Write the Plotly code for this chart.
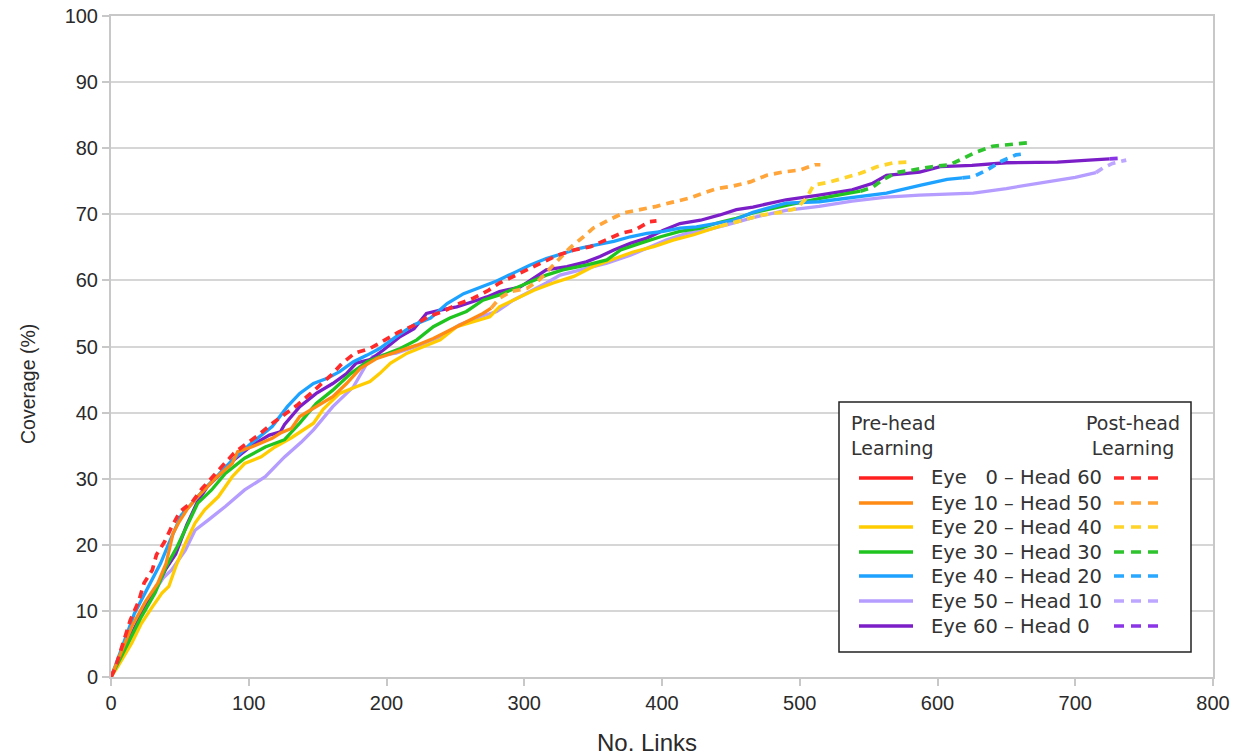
import plotly.graph_objects as go

# ---------------- data ----------------
labels = ["Eye\u00a0\u00a0\u00a00 \u2013 Head 60", "Eye 10 \u2013 Head 50", "Eye 20 \u2013 Head 40",
          "Eye 30 \u2013 Head 30", "Eye 40 \u2013 Head 20", "Eye 50 \u2013 Head 10",
          "Eye 60 \u2013 Head 0"]

# Eye 0 - Head 60
red_pre_x = [0]
red_pre_y = [0]
red_post_x = [0, 3, 14, 20, 24, 30, 33, 39, 44, 50, 59, 66, 73, 80, 89, 97, 107, 116, 125, 135, 145,
              152, 160, 168, 177, 188, 200, 209, 221, 230, 241, 253, 263, 274, 282, 292, 304, 316,
              324, 336, 348, 359, 370, 380, 391, 396]
red_post_y = [0, 1.3, 8.6, 11.4, 14.2, 16.2, 18.5, 20.5, 22.7, 25.0, 26.5, 28.5, 30.1, 31.8, 33.8,
              35.1, 36.6, 38.2, 39.6, 41.1, 42.9, 44.2, 45.7, 47.5, 49.0, 49.7, 51.2, 52.2, 53.3,
              54.5, 55.3, 56.5, 57.3, 58.5, 59.6, 60.6, 61.8, 63.1, 63.8, 64.6, 65.1, 66.1, 67.1,
              67.6, 68.9, 69.0]

# Eye 10 - Head 50
orange_pre_x = [0, 5, 15, 25, 34, 40, 45, 49, 55, 63, 76, 88, 92, 102, 117, 123, 131, 137, 149, 161,
                171, 181, 193, 207, 222, 234, 246, 258, 270, 276]
orange_pre_y = [0, 2.6, 7.6, 11.4, 14.2, 17.2, 21.7, 23.3, 25.3, 27.3, 30.1, 32.3, 34.1, 34.8, 36.1,
                36.9, 37.6, 39.4, 40.9, 42.4, 44.4, 46.7, 48.2, 49.2, 50.2, 51.2, 52.5, 53.8, 55.0, 55.8]
orange_post_x = [276, 282, 290, 302, 311, 319, 333, 343, 350, 361, 372, 384, 396, 407, 419, 430, 440,
                 452, 464, 476, 488, 500, 511, 515]
orange_post_y = [55.8, 57.3, 58.3, 58.8, 60.1, 61.8, 64.9, 66.6, 67.9, 69.1, 70.2, 70.7, 71.2, 71.8,
                 72.4, 73.2, 73.9, 74.3, 74.9, 75.9, 76.4, 76.7, 77.5, 77.5]

# Eye 20 - Head 40
yellow_pre_x = [0, 5, 15, 22, 30, 37, 42, 47, 54, 61, 68, 78, 88, 97, 109, 119, 131, 147, 154, 166,
                178, 188, 195, 203, 215, 227, 239, 251, 263, 275, 282, 292, 307, 321, 336, 350, 365,
                379, 394, 408, 423, 437, 442]
yellow_pre_y = [0, 1.6, 5.1, 8.1, 10.6, 12.7, 13.7, 16.7, 20.2, 23.3, 25.3, 27.3, 30.3, 32.3, 33.3,
                34.8, 36.2, 38.4, 40.5, 42.9, 43.9, 44.7, 45.9, 47.5, 49.0, 50.0, 51.0, 53.0, 53.8,
                54.5, 56.0, 57.0, 58.5, 59.6, 60.6, 62.1, 63.3, 64.3, 65.1, 66.1, 66.9, 67.9, 68.2]
yellow_post_x = [442, 460, 473, 486, 498, 505, 510, 522, 534, 544, 556, 568, 580]
yellow_post_y = [68.2, 69.2, 69.9, 70.3, 70.9, 72.5, 74.4, 74.9, 75.6, 76.2, 77.2, 77.8, 77.9]

# Eye 30 - Head 30
green_pre_x = [0, 10, 22, 32, 40, 48, 56, 63, 73, 83, 97, 112, 126, 137, 149, 161, 174, 186, 198,
               210, 222, 234, 246, 258, 270, 282, 299, 316, 328, 345, 360, 370, 384, 399, 413, 428,
               442, 454, 466, 491, 515, 539, 544]
green_pre_y = [0, 4.1, 9.1, 12.7, 16.7, 19.7, 23.3, 26.3, 28.3, 30.8, 33.1, 34.8, 35.9, 38.4, 41.4,
               43.4, 45.9, 47.7, 48.7, 49.7, 51.0, 53.0, 54.3, 55.3, 57.0, 57.8, 59.3, 60.8, 61.6,
               62.3, 63.1, 64.6, 65.6, 66.6, 67.4, 67.9, 68.8, 69.4, 70.2, 71.4, 72.4, 73.4, 73.5]
green_post_x = [544, 553, 560, 570, 582, 596, 609, 619, 628, 640, 653, 665]
green_post_y = [73.5, 74.1, 75.2, 76.3, 76.7, 77.2, 77.5, 78.5, 79.4, 80.3, 80.5, 80.8]

# Eye 40 - Head 20
blue_pre_x = [0, 3, 17, 27, 36, 42, 47, 51, 59, 68, 78, 88, 102, 117, 128, 137, 147, 157, 166, 176,
              186, 195, 207, 220, 232, 244, 256, 268, 280, 292, 304, 316, 328, 341, 353, 365, 377,
              389, 401, 413, 425, 437, 452, 466, 490, 514, 538, 563, 588, 607, 618]
blue_pre_y = [0, 1.6, 9.6, 13.7, 17.2, 20.2, 22.7, 24.5, 26.3, 28.5, 30.6, 32.8, 35.4, 37.9, 40.9,
              42.9, 44.4, 45.2, 46.2, 47.7, 48.7, 49.7, 51.5, 53.3, 54.3, 56.5, 58.0, 59.0, 59.9,
              61.1, 62.3, 63.3, 64.1, 64.9, 65.4, 65.9, 66.6, 67.1, 67.4, 67.9, 68.1, 68.6, 69.1,
              70.3, 71.7, 71.9, 72.5, 73.2, 74.4, 75.3, 75.5]
blue_post_x = [618, 626, 636, 645, 657, 661]
blue_post_y = [75.5, 75.7, 76.7, 77.9, 79.0, 79.1]

# Eye 50 - Head 10
lav_pre_x = [0, 10, 20, 30, 38, 44, 54, 61, 71, 83, 97, 112, 126, 138, 147, 161, 176, 186, 190, 207,
             224, 239, 253, 268, 280, 292, 316, 326, 341, 360, 377, 389, 403, 418, 432, 447, 466, 490,
             514, 538, 563, 587, 626, 650, 674, 700, 715]
lav_pre_y = [0, 4.0, 8.5, 12.5, 15.0, 16.2, 19.2, 22.2, 23.8, 25.8, 28.3, 30.3, 33.3, 35.5, 37.4,
             40.9, 43.9, 47.5, 48.5, 49.0, 50.2, 51.5, 53.3, 54.5, 55.3, 57.0, 59.6, 60.8, 61.6,
             62.6, 63.8, 64.9, 66.1, 67.1, 67.6, 68.4, 69.5, 70.6, 71.2, 72.0, 72.6, 72.9, 73.2,
             73.9, 74.7, 75.6, 76.3]
lav_post_x = [715, 720, 727, 737]
lav_post_y = [76.3, 77.0, 77.7, 78.2]

# Eye 60 - Head 0
purple_pre_x = [0, 10, 22, 32, 40, 47, 55, 63, 70, 80, 90, 102, 115, 123, 126, 137, 149, 161, 171,
                178, 188, 198, 210, 220, 229, 239, 251, 263, 273, 282, 297, 316, 331, 345, 355, 365,
                377, 389, 401, 413, 428, 442, 454, 466, 490, 514, 538, 553, 563, 578, 587, 602, 625,
                650, 687, 710, 725]
purple_pre_y = [0, 4.4, 9.5, 13.2, 16.4, 18.6, 23.0, 26.6, 28.8, 30.8, 33.0, 35.0, 36.6, 37.1, 38.2,
                40.9, 42.9, 44.4, 45.9, 47.5, 48.0, 49.5, 51.5, 52.7, 55.0, 55.5, 56.0, 56.8, 57.5,
                58.3, 59.0, 61.6, 62.1, 62.8, 63.6, 64.6, 65.6, 66.4, 67.6, 68.6, 69.1, 69.9, 70.7,
                71.1, 72.2, 72.9, 73.7, 74.7, 75.9, 76.2, 76.4, 77.2, 77.4, 77.8, 77.9, 78.2, 78.4]
purple_post_x = [725, 733]
purple_post_y = [78.4, 78.5]

x_ticks = [0, 100, 200, 300, 400, 500, 600, 700, 800]
y_ticks = [0, 10, 20, 30, 40, 50, 60, 70, 80, 90, 100]
x_title = "No. Links"
y_title = "Coverage (%)"

# ---------------- styling ----------------
solid_colors = ["#ff1f1f", "#ff8a14", "#ffcc00", "#1fc41f", "#1ea2ff", "#b59cff", "#7b1ec8"]
dash_colors = ["#ff2b2b", "#ffa53a", "#ffd42a", "#2ec42e", "#2aa8ff", "#bda6ff", "#8a35e6"]

pre = [(red_pre_x, red_pre_y), (orange_pre_x, orange_pre_y), (yellow_pre_x, yellow_pre_y),
       (green_pre_x, green_pre_y), (blue_pre_x, blue_pre_y), (lav_pre_x, lav_pre_y),
       (purple_pre_x, purple_pre_y)]
post = [(red_post_x, red_post_y), (orange_post_x, orange_post_y), (yellow_post_x, yellow_post_y),
        (green_post_x, green_post_y), (blue_post_x, blue_post_y), (lav_post_x, lav_post_y),
        (purple_post_x, purple_post_y)]

fig = go.Figure()
draw_order = [5, 6, 2, 3, 4, 1, 0]
for i in draw_order:
    x, y = pre[i]
    fig.add_trace(go.Scatter(x=x, y=y, mode="lines", name=labels[i] + " pre",
                             line=dict(color=solid_colors[i], width=3.3), showlegend=False))
for i in draw_order:
    x, y = post[i]
    fig.add_trace(go.Scatter(x=x, y=y, mode="lines", name=labels[i] + " post",
                             line=dict(color=dash_colors[i], width=3.7, dash="8px,6px"),
                             showlegend=False))

W, H = 1233, 756
L, R, T, B = 111, 1213, 16, 677   # plot area in page pixels


def px(xp):
    return (xp - L) / (R - L)


def py(yp):
    return (B - yp) / (B - T)


shapes = []
annotations = []
# legend box
shapes.append(dict(type="rect", xref="paper", yref="paper", x0=px(839), x1=px(1191),
                   y0=py(652), y1=py(402), line=dict(color="#222222", width=1.5),
                   fillcolor="white", layer="above"))
leg_font = dict(family="DejaVu Sans", size=19, color="#333333")
annotations.append(dict(xref="paper", yref="paper", x=px(849), y=py(410), xanchor="left",
                        yanchor="top", text="Pre-head<br>Learning", showarrow=False,
                        align="left", font=leg_font))
annotations.append(dict(xref="paper", yref="paper", x=px(1133), y=py(410), xanchor="center",
                        yanchor="top", text="Post-head<br>Learning", showarrow=False,
                        align="center", font=leg_font))
rows = [478, 503, 527, 552, 576, 601, 626]
for i, ry in enumerate(rows):
    shapes.append(dict(type="line", xref="paper", yref="paper", x0=px(859), x1=px(913),
                       y0=py(ry), y1=py(ry), line=dict(color=solid_colors[i], width=3.3),
                       layer="above"))
    shapes.append(dict(type="line", xref="paper", yref="paper", x0=px(1114), x1=px(1163),
                       y0=py(ry), y1=py(ry),
                       line=dict(color=dash_colors[i], width=3.7, dash="10px,7px"),
                       layer="above"))
    annotations.append(dict(xref="paper", yref="paper", x=px(929), y=py(ry), xanchor="left",
                            yanchor="middle", text=labels[i], showarrow=False,
                            font=dict(family="DejaVu Sans", size=19.5, color="#333333")))

title_family = "Liberation Sans, Arial, sans-serif"
annotations.append(dict(xref="paper", yref="paper", x=px(647), y=py(742), xanchor="center",
                        yanchor="middle", text=x_title, showarrow=False,
                        font=dict(family=title_family, size=24, color="#2a2a2a")))
annotations.append(dict(xref="paper", yref="paper", x=px(28), y=py(384), xanchor="center",
                        yanchor="middle", text=y_title, showarrow=False, textangle=-90,
                        font=dict(family=title_family, size=19.5, color="#2a2a2a")))

axis_font = dict(family=title_family, size=20, color="#2a2a2a")
fig.update_layout(
    width=W, height=H,
    margin=dict(l=L, r=W - R, t=T, b=H - B, autoexpand=False),
    paper_bgcolor="white", plot_bgcolor="white",
    shapes=shapes, annotations=annotations,
    showlegend=False,
    hovermode=False,
    xaxis=dict(range=[0, 800], tickvals=x_ticks, showgrid=False, zeroline=False,
               automargin=False, ticklabeloverflow="allow",
               showline=True, linecolor="#c8c8c8", linewidth=2, mirror=True,
               ticks="outside", ticklen=7, tickcolor="#c8c8c8", tickwidth=1.5,
               tickfont=axis_font),
    yaxis=dict(range=[0, 100], tickvals=y_ticks, showgrid=True, gridcolor="#d6d6d6",
               gridwidth=2, zeroline=False, automargin=False, ticklabeloverflow="allow",
               showline=True, linecolor="#c8c8c8", linewidth=2, mirror=True,
               ticks="outside", ticklen=7, tickcolor="#c8c8c8", tickwidth=1.5,
               tickfont=axis_font),
)

# remove the browser's default page margin so the 1233x756 figure fills the window exactly
fig.write_html("out.html",
               config={"displayModeBar": False, "displaylogo": False},
               post_script="document.body.style.margin='0';document.body.style.overflow='hidden';")
